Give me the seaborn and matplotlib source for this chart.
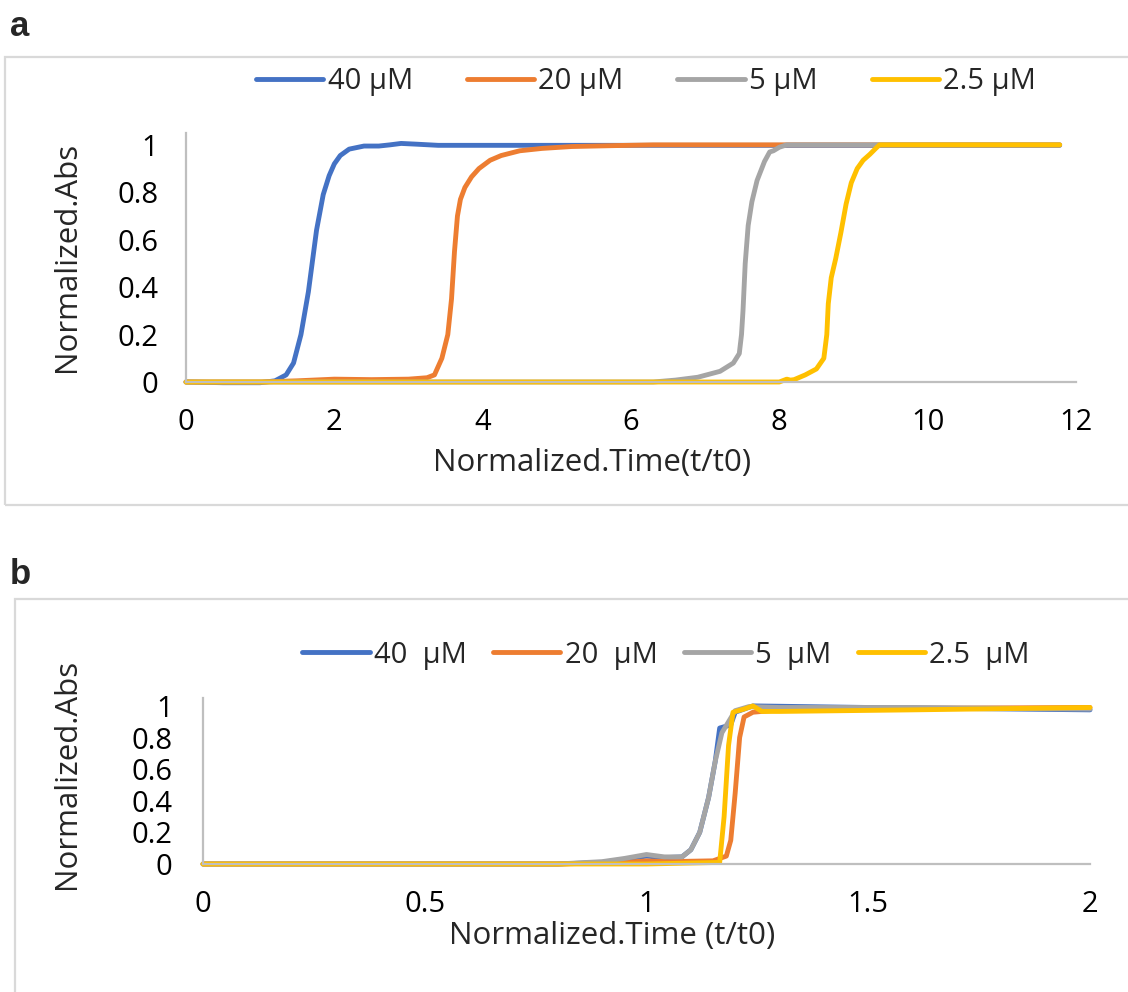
import numpy as np
import pandas as pd
import matplotlib
matplotlib.use("Agg")
import matplotlib.pyplot as plt
import matplotlib.patches as mpatches
import seaborn as sns

sns.set_theme(style="white")
plt.rcParams['font.family'] = ['Open Sans', 'DejaVu Sans']

# ---------------- data: panel a ----------------
a_labels = ["40 µM", "20 µM", "5 µM", "2.5 µM"]
a40_x = [0, 0.5, 1.0, 1.2, 1.35, 1.45, 1.55, 1.65, 1.76, 1.85, 1.93, 2.0, 2.08, 2.2, 2.4, 2.6, 2.75, 2.9, 3.1, 3.4, 4, 6, 8, 10, 11.78]
a40_y = [0, -0.003, -0.003, 0.005, 0.03, 0.08, 0.2, 0.38, 0.64, 0.79, 0.87, 0.92, 0.955, 0.982, 0.995, 0.995, 1.0, 1.006, 1.003, 0.998, 0.998, 0.998, 0.998, 0.998, 0.998]
a20_x = [0, 1.0, 1.5, 2.0, 2.5, 3.0, 3.25, 3.35, 3.45, 3.53, 3.58, 3.62, 3.66, 3.7, 3.76, 3.85, 3.95, 4.1, 4.25, 4.5, 4.8, 5.2, 5.8, 6.3, 8, 10, 11.78]
a20_y = [0, 0, 0.005, 0.012, 0.01, 0.012, 0.018, 0.03, 0.1, 0.2, 0.35, 0.55, 0.7, 0.77, 0.82, 0.865, 0.9, 0.935, 0.955, 0.975, 0.985, 0.993, 0.997, 1.0, 1.0, 1.0, 1.0]
a5_x = [0, 6.3, 6.6, 6.9, 7.2, 7.38, 7.46, 7.49, 7.51, 7.54, 7.58, 7.63, 7.7, 7.8, 7.87, 7.92, 8.0, 8.1, 9, 11.78]
a5_y = [0, 0, 0.008, 0.02, 0.045, 0.08, 0.12, 0.2, 0.3, 0.5, 0.66, 0.76, 0.85, 0.93, 0.97, 0.975, 0.99, 1.0, 1.0, 1.0]
a25_x = [0, 8.0, 8.1, 8.15, 8.2, 8.35, 8.5, 8.6, 8.64, 8.66, 8.7, 8.76, 8.83, 8.9, 8.97, 9.05, 9.13, 9.22, 9.3, 9.35, 10, 11.78]
a25_y = [0, 0, 0.012, 0.008, 0.01, 0.03, 0.055, 0.1, 0.2, 0.33, 0.44, 0.52, 0.63, 0.75, 0.84, 0.9, 0.935, 0.96, 0.985, 1.0, 1.0, 1.0]

# ---------------- data: panel b ----------------
b_labels = ["40  µM", "20  µM", "5  µM", "2.5  µM"]
b40_x = [0, 0.8, 0.9, 0.95, 1.0, 1.04, 1.08, 1.1, 1.12, 1.14, 1.155, 1.165, 1.19, 1.2, 1.24, 1.5, 2.0]
b40_y = [0, 0, 0.01, 0.03, 0.05, 0.04, 0.045, 0.09, 0.2, 0.42, 0.65, 0.86, 0.88, 0.96, 1.0, 0.99, 0.975]
b20_x = [0, 0.8, 0.95, 1.0, 1.05, 1.15, 1.18, 1.19, 1.2, 1.21, 1.22, 1.24, 1.3, 1.6, 2.0]
b20_y = [0, 0, 0.01, 0.02, 0.015, 0.02, 0.05, 0.15, 0.45, 0.8, 0.93, 0.96, 0.975, 0.985, 0.99]
b5_x = [0, 0.8, 0.9, 0.95, 1.0, 1.04, 1.08, 1.1, 1.12, 1.14, 1.155, 1.17, 1.185, 1.2, 1.23, 1.3, 1.6, 2.0]
b5_y = [0, 0, 0.015, 0.035, 0.06, 0.045, 0.045, 0.09, 0.2, 0.42, 0.65, 0.83, 0.9, 0.97, 0.995, 0.99, 0.99, 0.98]
b25_x = [0, 1.0, 1.165, 1.175, 1.185, 1.195, 1.22, 1.24, 1.26, 1.3, 1.6, 2.0]
b25_y = [0, 0, 0.01, 0.3, 0.75, 0.96, 0.98, 1.0, 0.965, 0.965, 0.975, 0.99]

colors = ["#4472C4", "#ED7D31", "#A5A5A5", "#FFC000"]

def make_df(xs, ys, labels):
    frames = []
    for x, y, lab in zip(xs, ys, labels):
        frames.append(pd.DataFrame({"x": x, "y": y, "series": lab}))
    return pd.concat(frames, ignore_index=True)

dfa = make_df([a40_x, a20_x, a5_x, a25_x], [a40_y, a20_y, a5_y, a25_y], a_labels)
dfb = make_df([b40_x, b20_x, b5_x, b25_x], [b40_y, b20_y, b5_y, b25_y], b_labels)

W, H = 1128, 992
fig = plt.figure(figsize=(W / 100, H / 100), dpi=100)

def px_axes(l, r, b, t):
    return fig.add_axes([l / W, 1 - b / H, (r - l) / W, (b - t) / H])

FS = 21
LFS = 22.5
spine_c = "#BFBFBF"

def style_axes(ax, xlim, xticks, xticklabels, ypad, xpad):
    ax.set_xlim(*xlim)
    ax.set_ylim(0, 1.05)
    ax.set_xticks(xticks)
    ax.set_xticklabels(xticklabels)
    ax.set_yticks([0, 0.2, 0.4, 0.6, 0.8, 1.0])
    ax.set_yticklabels(["0", "0.2", "0.4", "0.6", "0.8", "1"])
    for s in ["top", "right"]:
        ax.spines[s].set_visible(False)
    for s in ["left", "bottom"]:
        ax.spines[s].set_color(spine_c)
        ax.spines[s].set_linewidth(1.6)
    ax.tick_params(axis="y", length=0, pad=ypad, labelsize=FS, labelcolor="black")
    ax.tick_params(axis="x", length=0, pad=xpad, labelsize=FS, labelcolor="black")
    ax.set_xlabel("")
    ax.set_ylabel("")
    ax.patch.set_alpha(0)

# ---- panel a ----
axa = px_axes(186, 1076, 382, 133)
sns.lineplot(data=dfa, x="x", y="y", hue="series", palette=colors, estimator=None,
             sort=False, linewidth=3.5, ax=axa, legend=True)
for ln in axa.lines:
    ln.set_clip_on(False)
    ln.set_solid_capstyle("round")
    ln.set_solid_joinstyle("round")
style_axes(axa, (0, 12), [0, 2, 4, 6, 8, 10, 12], ["0", "2", "4", "6", "8", "10", "12"], 20, 19)
h, l = axa.get_legend_handles_labels()
axa.legend_.remove()
fig.legend(h, l, loc="center", bbox_to_anchor=(646 / W, 1 - 82 / H), ncol=4, frameon=False,
           fontsize=FS, handlelength=2.3, handletextpad=0.15, columnspacing=1.85)
fig.text(67 / W, 1 - 257 / H, "Normalized.Abs", rotation=90, ha="center", va="center", fontsize=LFS)
fig.text(592 / W, 1 - 463 / H, "Normalized.Time(t/t0)", ha="center", va="center", fontsize=LFS)

# ---- panel b ----
axb = px_axes(203, 1090, 864, 698)
sns.lineplot(data=dfb, x="x", y="y", hue="series", palette=colors, estimator=None,
             sort=False, linewidth=3.5, ax=axb, legend=True)
for ln in axb.lines:
    ln.set_clip_on(False)
    ln.set_solid_capstyle("round")
    ln.set_solid_joinstyle("round")
style_axes(axb, (0, 2), [0, 0.5, 1, 1.5, 2], ["0", "0.5", "1", "1.5", "2"], 22, 19)
h, l = axb.get_legend_handles_labels()
axb.legend_.remove()
fig.legend(h, l, loc="center", bbox_to_anchor=(666 / W, 1 - 655 / H), ncol=4, frameon=False,
           fontsize=FS, handlelength=2.3, handletextpad=0.15, columnspacing=0.9)
fig.text(67 / W, 1 - 774 / H, "Normalized.Abs", rotation=90, ha="center", va="center", fontsize=LFS)
fig.text(612 / W, 1 - 936 / H, "Normalized.Time (t/t0)", ha="center", va="center", fontsize=LFS)

# ---- boxes and panel letters ----
fig.patches.append(mpatches.Rectangle((5 / W, 1 - 505 / H), 1.2, (505 - 57) / H, transform=fig.transFigure,
                                      fill=False, edgecolor="#D9D9D9", linewidth=1.6))
fig.patches.append(mpatches.Rectangle((15 / W, -0.1), 1.2, (1 - 599 / H) + 0.1, transform=fig.transFigure,
                                      fill=False, edgecolor="#D9D9D9", linewidth=1.6))
fig.text(10 / W, 1 - 26 / H, "a", fontsize=25, fontweight="bold", family="Liberation Sans", va="center", ha="left")
fig.text(10 / W, 1 - 574 / H, "b", fontsize=25, fontweight="bold", family="Liberation Sans", va="center", ha="left")

fig.savefig("out.png", dpi=100)
